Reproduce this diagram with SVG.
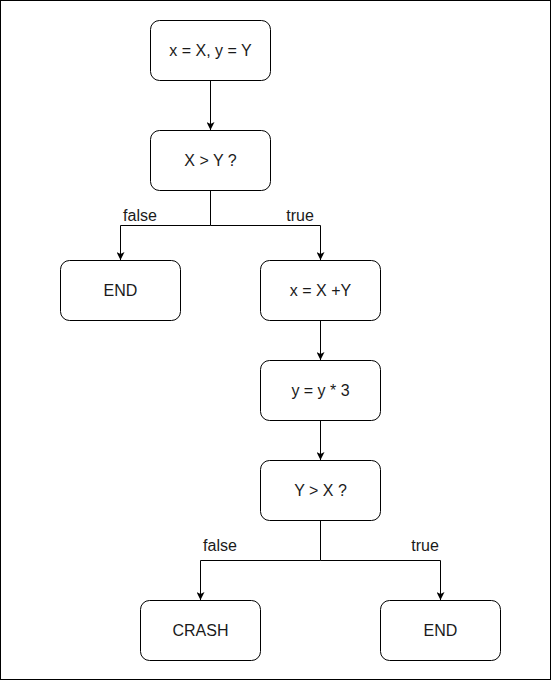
<svg xmlns="http://www.w3.org/2000/svg" width="551" height="681" viewBox="0 0 551 681">
  <style>
    .box { fill: #ffffff; stroke: #000000; stroke-width: 1; }
    .lbl { font-family: "Liberation Sans", Arial, sans-serif; font-size: 16px; fill: #1a1a1a; text-anchor: middle; dominant-baseline: central; }
    .edge { fill: none; stroke: #000000; stroke-width: 1; }
  </style>
  <defs>
    <marker id="arrow" viewBox="0 0 10 10" refX="10" refY="5" markerWidth="8" markerHeight="8" markerUnits="userSpaceOnUse" orient="auto">
      <path d="M0,0 L10,5 L0,10 L2.5,5 Z" fill="#000000"/>
    </marker>
  </defs>
  <rect x="0" y="0" width="551" height="681" fill="#ffffff"/>
  <rect x="0.5" y="0.5" width="550" height="679" fill="none" stroke="#000000" stroke-width="1"/>

  <g id="connectors">
    <path class="edge" d="M210.5,80 L210.5,130" marker-end="url(#arrow)"/>
    <path class="edge" d="M210.5,190 L210.5,225.5 L120.5,225.5 L120.5,260" marker-end="url(#arrow)"/>
    <path class="edge" d="M210.5,225.5 L320.5,225.5 L320.5,260" marker-end="url(#arrow)"/>
    <path class="edge" d="M320.5,320 L320.5,360" marker-end="url(#arrow)"/>
    <path class="edge" d="M320.5,420 L320.5,460" marker-end="url(#arrow)"/>
    <path class="edge" d="M320.5,520 L320.5,560.5 L200.5,560.5 L200.5,600" marker-end="url(#arrow)"/>
    <path class="edge" d="M320.5,560.5 L440.5,560.5 L440.5,600" marker-end="url(#arrow)"/>
    <text class="lbl" x="140" y="215">false</text>
    <text class="lbl" x="300" y="215">true</text>
    <text class="lbl" x="220" y="545">false</text>
    <text class="lbl" x="425" y="545">true</text>
  </g>

  <g id="init">
    <rect class="box" x="150.5" y="20.5" width="120" height="60" rx="9"/>
    <text class="lbl" x="210.5" y="50.5">x = X, y = Y</text>
  </g>
  <g id="cmp1">
    <rect class="box" x="150.5" y="130.5" width="120" height="60" rx="9"/>
    <text class="lbl" x="210.5" y="160.5">X &gt; Y ?</text>
  </g>
  <g id="end1">
    <rect class="box" x="60.5" y="260.5" width="120" height="60" rx="9"/>
    <text class="lbl" x="120.5" y="290.5">END</text>
  </g>
  <g id="add">
    <rect class="box" x="260.5" y="260.5" width="120" height="60" rx="9"/>
    <text class="lbl" x="320.5" y="290.5">x = X +Y</text>
  </g>
  <g id="mul">
    <rect class="box" x="260.5" y="360.5" width="120" height="60" rx="9"/>
    <text class="lbl" x="320.5" y="390.5">y = y * 3</text>
  </g>
  <g id="cmp2">
    <rect class="box" x="260.5" y="460.5" width="120" height="60" rx="9"/>
    <text class="lbl" x="320.5" y="490.5">Y &gt; X ?</text>
  </g>
  <g id="crash">
    <rect class="box" x="140.5" y="600.5" width="120" height="60" rx="9"/>
    <text class="lbl" x="200.5" y="630.5">CRASH</text>
  </g>
  <g id="end2">
    <rect class="box" x="380.5" y="600.5" width="120" height="60" rx="9"/>
    <text class="lbl" x="440.5" y="630.5">END</text>
  </g>
</svg>
